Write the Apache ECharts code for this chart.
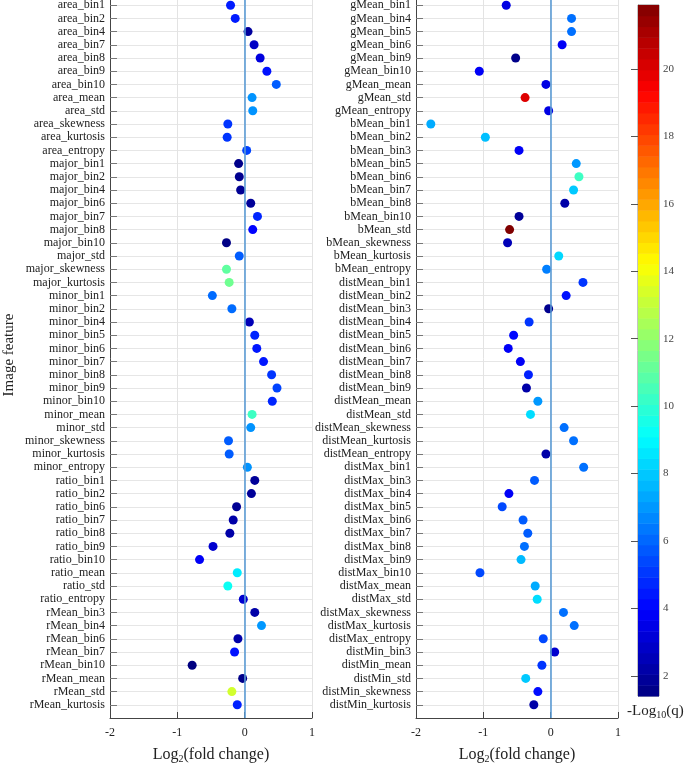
<!DOCTYPE html>
<html><head><meta charset="utf-8">
<script src="https://cdn.jsdelivr.net/npm/echarts@6/dist/echarts.min.js"></script>
<style>html,body{margin:0;padding:0;background:#fff}#c{width:685px;height:763px}</style>
</head><body><div id="c"></div>
<script>
var leftCats = ['area_bin1','area_bin2','area_bin4','area_bin7','area_bin8','area_bin9','area_bin10','area_mean','area_std','area_skewness','area_kurtosis','area_entropy','major_bin1','major_bin2','major_bin4','major_bin6','major_bin7','major_bin8','major_bin10','major_std','major_skewness','major_kurtosis','minor_bin1','minor_bin2','minor_bin4','minor_bin5','minor_bin6','minor_bin7','minor_bin8','minor_bin9','minor_bin10','minor_mean','minor_std','minor_skewness','minor_kurtosis','minor_entropy','ratio_bin1','ratio_bin2','ratio_bin6','ratio_bin7','ratio_bin8','ratio_bin9','ratio_bin10','ratio_mean','ratio_std','ratio_entropy','rMean_bin3','rMean_bin4','rMean_bin6','rMean_bin7','rMean_bin10','rMean_mean','rMean_std','rMean_kurtosis'];
var leftFC = [-0.21,-0.14,0.05,0.14,0.23,0.33,0.47,0.11,0.12,-0.25,-0.26,0.03,-0.09,-0.08,-0.06,0.09,0.19,0.12,-0.27,-0.08,-0.27,-0.23,-0.48,-0.19,0.07,0.15,0.18,0.28,0.40,0.48,0.41,0.11,0.09,-0.24,-0.23,0.04,0.15,0.10,-0.12,-0.17,-0.22,-0.47,-0.67,-0.11,-0.25,-0.02,0.15,0.25,-0.10,-0.15,-0.78,-0.03,-0.19,-0.11];
var leftQ = [4.5,4.5,2.0,2.8,3.3,4.3,5.8,6.9,6.9,5.0,5.0,5.3,1.6,1.7,1.8,1.9,4.7,4.0,1.5,5.8,11.0,11.3,6.1,6.1,2.5,4.7,4.4,4.4,5.0,5.3,4.7,10.3,6.9,5.8,5.8,6.9,1.9,1.9,1.8,2.2,2.2,3.0,3.8,8.7,9.3,3.0,2.2,7.0,2.2,4.3,1.4,1.6,13.3,4.6];

var rightCats = ['gMean_bin1','gMean_bin4','gMean_bin5','gMean_bin6','gMean_bin9','gMean_bin10','gMean_mean','gMean_std','gMean_entropy','bMean_bin1','bMean_bin2','bMean_bin3','bMean_bin5','bMean_bin6','bMean_bin7','bMean_bin8','bMean_bin10','bMean_std','bMean_skewness','bMean_kurtosis','bMean_entropy','distMean_bin1','distMean_bin2','distMean_bin3','distMean_bin4','distMean_bin5','distMean_bin6','distMean_bin7','distMean_bin8','distMean_bin9','distMean_mean','distMean_std','distMean_skewness','distMean_kurtosis','distMean_entropy','distMax_bin1','distMax_bin3','distMax_bin4','distMax_bin5','distMax_bin6','distMax_bin7','distMax_bin8','distMax_bin9','distMax_bin10','distMax_mean','distMax_std','distMax_skewness','distMax_kurtosis','distMax_entropy','distMin_bin3','distMin_mean','distMin_std','distMin_skewness','distMin_kurtosis'];
var rightFC = [-0.66,0.31,0.31,0.17,-0.52,-1.06,-0.07,-0.38,-0.03,-1.78,-0.97,-0.47,0.38,0.42,0.34,0.21,-0.47,-0.61,-0.64,0.12,-0.06,0.48,0.23,-0.03,-0.32,-0.55,-0.63,-0.45,-0.33,-0.36,-0.19,-0.30,0.20,0.34,-0.07,0.49,-0.24,-0.62,-0.72,-0.41,-0.34,-0.39,-0.44,-1.05,-0.23,-0.20,0.19,0.35,-0.11,0.06,-0.13,-0.37,-0.19,-0.25];
var rightQ = [3.4,6.2,6.2,3.8,1.6,3.8,3.4,20.0,3.4,7.4,7.8,3.8,7.0,10.3,8.0,2.2,1.9,21.9,2.5,8.3,6.5,5.0,4.3,1.7,5.0,4.1,3.8,3.8,4.6,2.2,7.0,8.4,6.2,6.2,2.2,6.2,5.8,3.8,5.4,5.8,5.8,6.2,7.7,5.4,7.4,8.4,6.2,6.2,5.4,3.0,5.0,8.0,4.2,2.2];

var xTicks = [-2,-1,0,1];
var colorMin = 1.4, colorMax = 21.9;
var jet = ['#000080','#0000ff','#0080ff','#00ffff','#80ff80','#ffff00','#ff8000','#ff0000','#800000'];

var SERIF = '"Liberation Serif","Times New Roman",serif';

function pts(fc, q){ return fc.map(function(v,i){ return [v, i+1, q[i]]; }); }

var bands = [];
var N = 64;
for (var k=0;k<N;k++){
  var lo = colorMin + (colorMax-colorMin)*k/N, hi = colorMin + (colorMax-colorMin)*(k+1)/N;
  bands.push([lo, hi, (lo+hi)/2]);
}

function xAx(gi){
  return {
    gridIndex: gi, type:'value', min: xTicks[0], max: xTicks[xTicks.length-1], interval: 1,
    axisLine:{show:true, onZero:false, lineStyle:{color:'#444', width:1}},
    axisTick:{show:true, inside:true, length:6, lineStyle:{color:'#444'}},
    axisLabel:{fontFamily:SERIF, fontSize:12, color:'#222', margin:9},
    splitLine:{show:true, lineStyle:{color:'#e3e3e3', width:1}},
    name:'Log{s|2}(fold change)', nameLocation:'middle', nameGap:28,
    nameTextStyle:{fontFamily:SERIF, fontSize:16, color:'#222', rich:{s:{fontFamily:SERIF, fontSize:10, color:'#222', verticalAlign:'bottom', padding:[8,0,0,0]}}}
  };
}
function yAx(gi, cats, withName){
  var o = {
    gridIndex: gi, type:'value', min:0, max:55, interval:1, inverse:true,
    axisLine:{show:true, onZero:false, lineStyle:{color:'#444', width:1}},
    axisTick:{show:true, inside:true, length:7, lineStyle:{color:'#777'}},
    axisLabel:{fontFamily:SERIF, fontSize:12, color:'#222', margin:5, showMinLabel:false, showMaxLabel:false,
      formatter:function(v){ return cats[v-1] || ''; }},
    splitLine:{show:true, lineStyle:{color:'#e6e6e6', width:1}}
  };
  if (withName){
    o.name = 'Image feature'; o.nameLocation='middle'; o.nameGap = 93;
    o.nameTextStyle = {fontFamily:SERIF, fontSize:15, color:'#222'};
  }
  return o;
}

var zeroLine = {
  silent:true, symbol:'none', label:{show:false},
  lineStyle:{color:'#5b9bd5', width:1.6, type:'solid'},
  data:[{xAxis:0}]
};

var option = {
  animation:false,
  backgroundColor:'#fff',
  grid:[
    {left:110, width:202, top:-8, height:726, outerBoundsMode:'none', containLabel:false},
    {left:416, width:202, top:-8, height:726, outerBoundsMode:'none', containLabel:false},
    {left:638, width:21, top:5, height:691, outerBoundsMode:'none', containLabel:false, show:true, borderColor:'#888', borderWidth:1, backgroundColor:'transparent'}
  ],
  xAxis:[ xAx(0), xAx(1),
    {gridIndex:2, type:'value', min:0, max:1, show:false}
  ],
  yAxis:[ yAx(0, leftCats, true), yAx(1, rightCats, false),
    {gridIndex:2, type:'value', min:colorMin, max:colorMax, splitNumber:10, position:'right',
     axisLine:{show:true, lineStyle:{color:'#888'}},
     axisTick:{show:true, inside:true, length:7, lineStyle:{color:'#555'}},
     axisLabel:{fontFamily:SERIF, fontSize:11, color:'#444', margin:4, showMinLabel:false, showMaxLabel:false},
     splitLine:{show:false}
    }
  ],
  graphic:[{
    type:'text', left:627, top:704, silent:true,
    style:{text:'-Log{s|10}(q)', fontFamily:SERIF, fontSize:15, fill:'#222',
      rich:{s:{fontFamily:SERIF, fontSize:10, fill:'#222', verticalAlign:'bottom', padding:[8,0,0,0]}}}
  }],
  visualMap:{type:'continuous', show:false, min:colorMin, max:colorMax, dimension:2, seriesIndex:[2,3,4], inRange:{color:jet}},
  series:[
    {type:'scatter', xAxisIndex:0, yAxisIndex:0, data:[], z:1, markLine:zeroLine},
    {type:'scatter', xAxisIndex:1, yAxisIndex:1, data:[], z:1, markLine:zeroLine},
    {type:'scatter', xAxisIndex:0, yAxisIndex:0, symbolSize:9, z:3, itemStyle:{opacity:1}, data:pts(leftFC, leftQ), encode:{x:0,y:1}},
    {type:'scatter', xAxisIndex:1, yAxisIndex:1, symbolSize:9, z:3, itemStyle:{opacity:1}, data:pts(rightFC, rightQ), encode:{x:0,y:1}},
    {type:'custom', xAxisIndex:2, yAxisIndex:2, data:bands, encode:{y:[0,1]},
     renderItem:function(params, api){
       var p1 = api.coord([0, api.value(1)]), p2 = api.coord([1, api.value(0)]);
       return {type:'rect', shape:{x:p1[0], y:p1[1], width:p2[0]-p1[0], height:p2[1]-p1[1]+0.5},
         style:{fill:api.visual('color'), stroke:null}};
     }}
  ]
};
var chart = echarts.init(document.getElementById('c'), null, {renderer:'canvas'});
chart.setOption(option);
</script></body></html>
